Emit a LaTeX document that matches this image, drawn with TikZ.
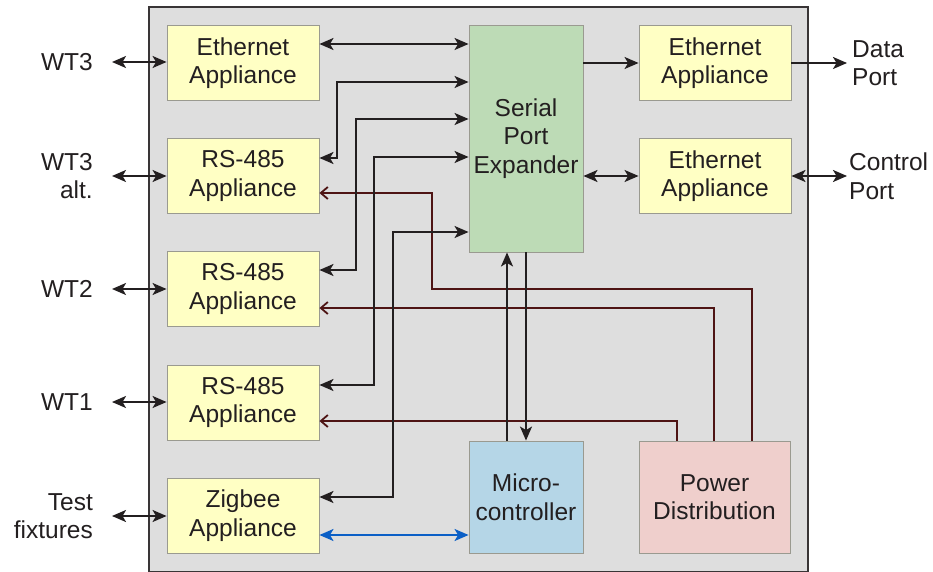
\documentclass[tikz,border=0pt]{standalone}
\usepackage{fontspec}
\setmainfont{Liberation Sans}
\usetikzlibrary{arrows.meta}
\definecolor{bgc}{HTML}{DEDEDE}
\definecolor{ink}{HTML}{231F20}
\definecolor{yel}{HTML}{FFFFC4}
\definecolor{grn}{HTML}{BDDBB6}
\definecolor{blu}{HTML}{B5D6E7}
\definecolor{pnk}{HTML}{EFCFCC}
\definecolor{bord}{HTML}{9A9A90}
\definecolor{mar}{HTML}{4E1414}
\definecolor{zblue}{HTML}{0B5FC6}
\begin{document}
\begin{tikzpicture}[x=1pt,y=-1pt,
  txt/.style={font=\fontsize{24.5}{28.5}\selectfont, text=ink, align=center, inner sep=0pt},
  box/.style={txt, draw=bord, line width=0.9pt, minimum width=152pt, minimum height=75pt},
  ybox/.style={box, fill=yel},
  lab/.style={txt, align=right, anchor=east},
  rlab/.style={txt, align=left, anchor=west},
  blk/.style={line width=2pt, draw=ink, -{Stealth[length=14pt,width=12pt,inset=3.5pt]}},
  dbl/.style={line width=2pt, draw=ink, {Stealth[length=14pt,width=12pt,inset=3.5pt]}-{Stealth[length=14pt,width=12pt,inset=3.5pt]}},
  pw/.style={line width=1.8pt, draw=mar, -{Straight Barb[length=7pt,width=12pt]}},
  bdbl/.style={line width=2pt, draw=zblue, {Stealth[length=14pt,width=12pt,inset=3.5pt]}-{Stealth[length=14pt,width=12pt,inset=3.5pt]}}
]
\useasboundingbox (0,0) rectangle (933,572);
\fill[white] (0,0) rectangle (933,572);
\draw[fill=bgc, draw=ink!90, line width=1.8pt] (149,7) rectangle (808,572);

% left boxes
\node[ybox] (e1) at (243,63) {Ethernet\\Appliance};
\node[ybox] (rs1) at (243,176) {RS-485\\Appliance};
\node[ybox] (rs2) at (243,289) {RS-485\\Appliance};
\node[ybox] (rs3) at (243,402.5) {RS-485\\Appliance};
\node[ybox] (zb) at (243,515.5) {Zigbee\\Appliance};

% centre
\node[box, fill=grn, minimum width=114pt, minimum height=227pt] (sp) at (526,138.5) {Serial\\Port\\Expander};
\node[box, fill=blu, minimum width=114pt, minimum height=112pt] (mc) at (526,497) {Micro-\\controller};
\node[box, fill=pnk, minimum width=151pt, minimum height=112pt] (pd) at (714.5,497) {Power\\Distribution};

% right boxes
\node[ybox] (re1) at (715,63) {Ethernet\\Appliance};
\node[ybox] (re2) at (715,176) {Ethernet\\Appliance};

% outside labels
\node[lab] (l1) at (93,62) {WT3};
\node[lab] (l2) at (93,176) {WT3\\alt.};
\node[lab] (l3) at (93,289) {WT2};
\node[lab] (l4) at (93,402) {WT1};
\node[lab] (l5) at (93,516) {Test\\fixtures};
\node[rlab] (dpl) at (852,63) {Data\\Port};
\node[rlab] (cpl) at (849,176) {Control\\Port};

\coordinate (c1) at (112,62);
\coordinate (c2) at (112,176);
\coordinate (c3) at (112,289);
\coordinate (c4) at (112,402);
\coordinate (c5) at (112,516);
\coordinate (dp) at (847,63);
\coordinate (cp) at (847,176);

% outside arrows
\draw[dbl] (c1) -- (e1.west |- c1);
\draw[dbl] (c2) -- (rs1.west |- c2);
\draw[dbl] (c3) -- (rs2.west |- c3);
\draw[dbl] (c4) -- (rs3.west |- c4);
\draw[dbl] (c5) -- (zb.west |- c5);
\draw[blk] (re1.east |- dp) -- (dp);
\draw[dbl] (re2.east |- cp) -- (cp);

% power lines
\draw[pw] (pd.north -| 752,0) -- (752,289) -| (432,193) -- (rs1.east |- 0,193);
\draw[pw] (pd.north -| 714,0) |- (rs2.east |- 0,308);
\draw[pw] (pd.north -| 677,0) |- (rs3.east |- 0,421);

% serial links
\draw[dbl] (e1.east |- 0,44) -- (sp.west |- 0,44);
\draw[dbl] (rs1.east |- 0,158) -| (337,82) -- (sp.west |- 0,82);
\draw[dbl] (rs2.east |- 0,270) -| (356,119) -- (sp.west |- 0,119);
\draw[dbl] (rs3.east |- 0,385) -| (374,157) -- (sp.west |- 0,157);
\draw[dbl] (zb.east |- 0,497) -| (393,232) -- (sp.west |- 0,232);
\draw[blk] (sp.east |- 0,63) -- (re1.west);
\draw[dbl] (sp.east |- 0,176) -- (re2.west);

% micro links
\draw[blk] (mc.north -| 507,0) -- (sp.south -| 507,0);
\draw[blk] (sp.south -| 526,0) -- (mc.north -| 526,0);
\draw[bdbl] (zb.east |- 0,535) -- (mc.west |- 0,535);
\end{tikzpicture}
\end{document}
